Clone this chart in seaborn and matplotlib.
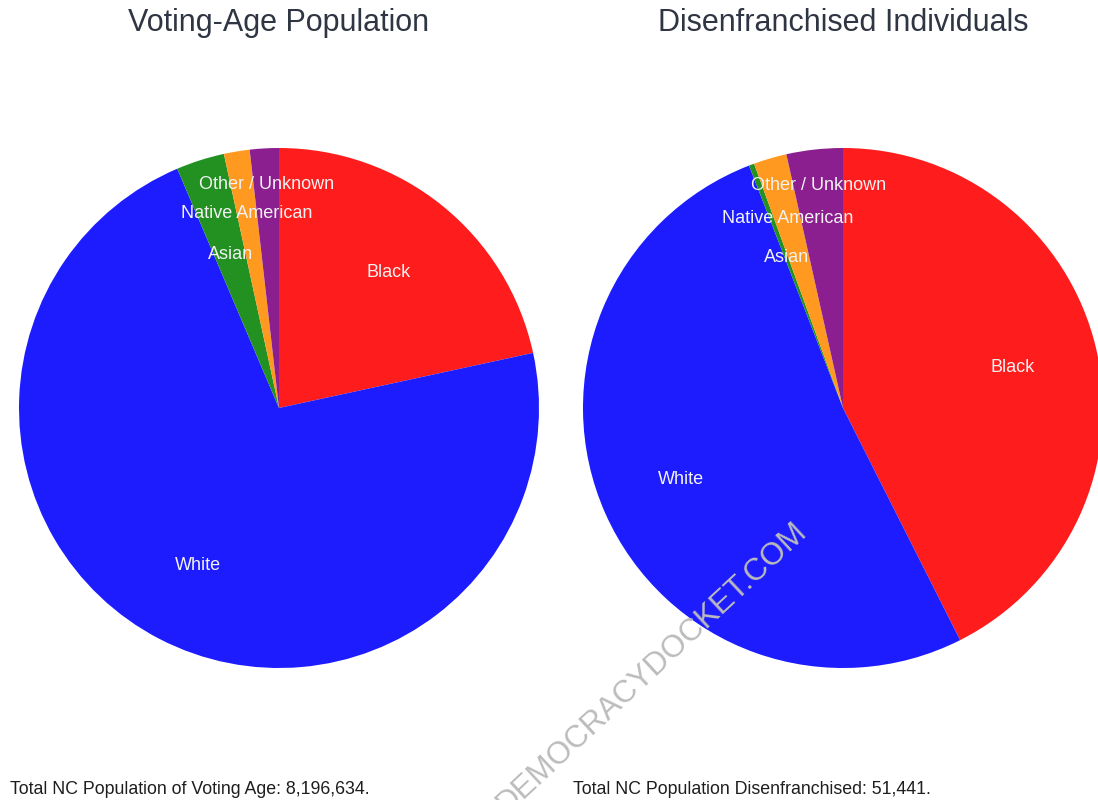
import numpy as np
import matplotlib
matplotlib.use("Agg")
import matplotlib.pyplot as plt
import seaborn as sns

# share of each group, in percent, going clockwise from 12 o'clock
groups = ["Black", "White", "Asian", "Native American", "Other / Unknown"]
voting_age_pct = [21.6, 72.0, 3.0, 1.6, 1.8]
disenfranchised_pct = [42.6, 51.6, 0.33, 2.06, 3.5]

titles = ["Voting-Age Population", "Disenfranchised Individuals"]
notes = ["Total NC Population of Voting Age: 8,196,634.",
         "Total NC Population Disenfranchised: 51,441."]

colors = ["#ff1c1c", "#1c1cff", "#229122", "#ff9920", "#8c1f8f"]
# how far out (fraction of radius) each slice label sits
label_r = {"Black": 0.67, "White": 0.68, "Asian": 0.62,
           "Native American": 0.76, "Other / Unknown": 0.86}

sns.set_theme(style="white")
plt.rcParams['font.family'] = ['Liberation Sans', 'DejaVu Sans']

fig = plt.figure(figsize=(10.98, 8), dpi=100)
W, H = 1098, 800


def draw_pie(cx, cy, r, values, title, note, note_x):
    ax = fig.add_axes([(cx - r) / W, (H - cy - r) / H, 2 * r / W, 2 * r / H])
    wedges, _ = ax.pie(values, colors=colors, startangle=90, counterclock=False,
                       radius=1, wedgeprops=dict(linewidth=0))
    ax.set_xlim(-1, 1)
    ax.set_ylim(-1, 1)
    ax.set_aspect("equal")
    ax.axis("off")
    for w, name in zip(wedges, groups):
        mid = np.deg2rad((w.theta1 + w.theta2) / 2)
        d = label_r[name]
        ax.text(d * np.cos(mid), d * np.sin(mid), name, ha="center", va="center",
                color="#f2f2f2", fontsize=13)
    fig.text(cx / W, 1 - 23 / H, title, ha="center", va="center",
             fontsize=22, color="#2f3542")
    fig.text(note_x / W, 1 - 789 / H, note, ha="left", va="center",
             fontsize=12.8, color="#1e1e1e")


draw_pie(279, 408, 260, voting_age_pct, titles[0], notes[0], 10)
draw_pie(843, 408, 260, disenfranchised_pct, titles[1], notes[1], 573)

# watermark, runs off the bottom edge like in the source
fig.text(652 / W, 1 - 668 / H, "DEMOCRACYDOCKET.COM", ha="center", va="center",
         rotation=43, fontsize=22.5, color="#bcbcbc")

fig.savefig("out.png", dpi=100)
